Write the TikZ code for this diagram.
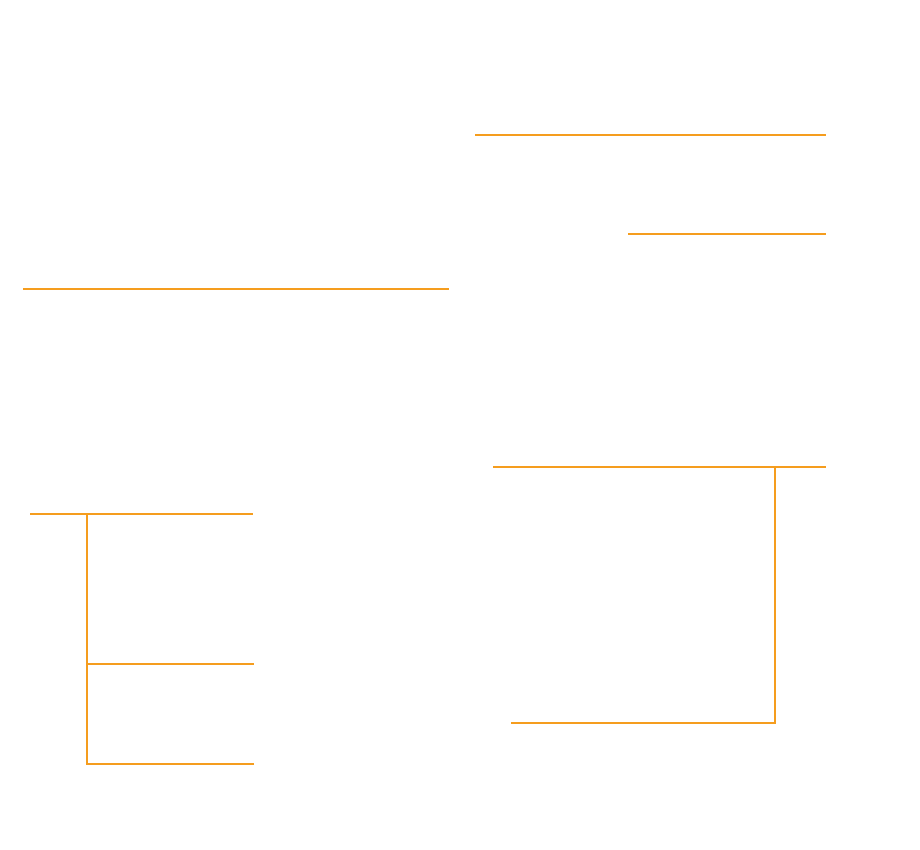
\documentclass[tikz,border=0pt]{standalone}
\usepackage{xcolor}
\usetikzlibrary{positioning}

\definecolor{lineorange}{RGB}{245,157,30}

\begin{document}
\begin{tikzpicture}[x=1pt, y=-1pt]
\tikzset{bar/.style={draw=lineorange, line width=2pt}}
  \useasboundingbox (0,0) rectangle (920,850);

  % top right lines
  \coordinate (T1a) at (475,135.5);  \coordinate (T1b) at (826,135.5);
  \coordinate (T2a) at (628,234);    \coordinate (T2b) at (826,234);
  % long line on the left
  \coordinate (L1a) at (23,289);     \coordinate (L1b) at (449,289);
  % right bracket
  \coordinate (R1a) at (493,467);    \coordinate (R1b) at (826,467);
  \coordinate (Rtop) at (775,467);   \coordinate (Rbot) at (775,722.5);
  \coordinate (R2a) at (511,722.5);
  % left tree
  \coordinate (S0a) at (30,514);     \coordinate (S0b) at (253,514);
  \coordinate (Stop) at (87,514);
  \coordinate (S1a) at (87,663.5);   \coordinate (S1b) at (254,663.5);
  \coordinate (S2a) at (87,764);     \coordinate (S2b) at (254,764);

  \draw[bar] (T1a) -- (T1b);
  \draw[bar] (T2a) -- (T2b);
  \draw[bar] (L1a) -- (L1b);
  \draw[bar] (R1a) -- (R1b);
  \draw[bar] (Rtop) -- (Rbot) -- (R2a);
  \draw[bar] (S0a) -- (S0b);
  \draw[bar] (S1a) -- (S1b);
  \draw[bar] (S2b) -- (S2a) -- (Stop);
\end{tikzpicture}
\end{document}
